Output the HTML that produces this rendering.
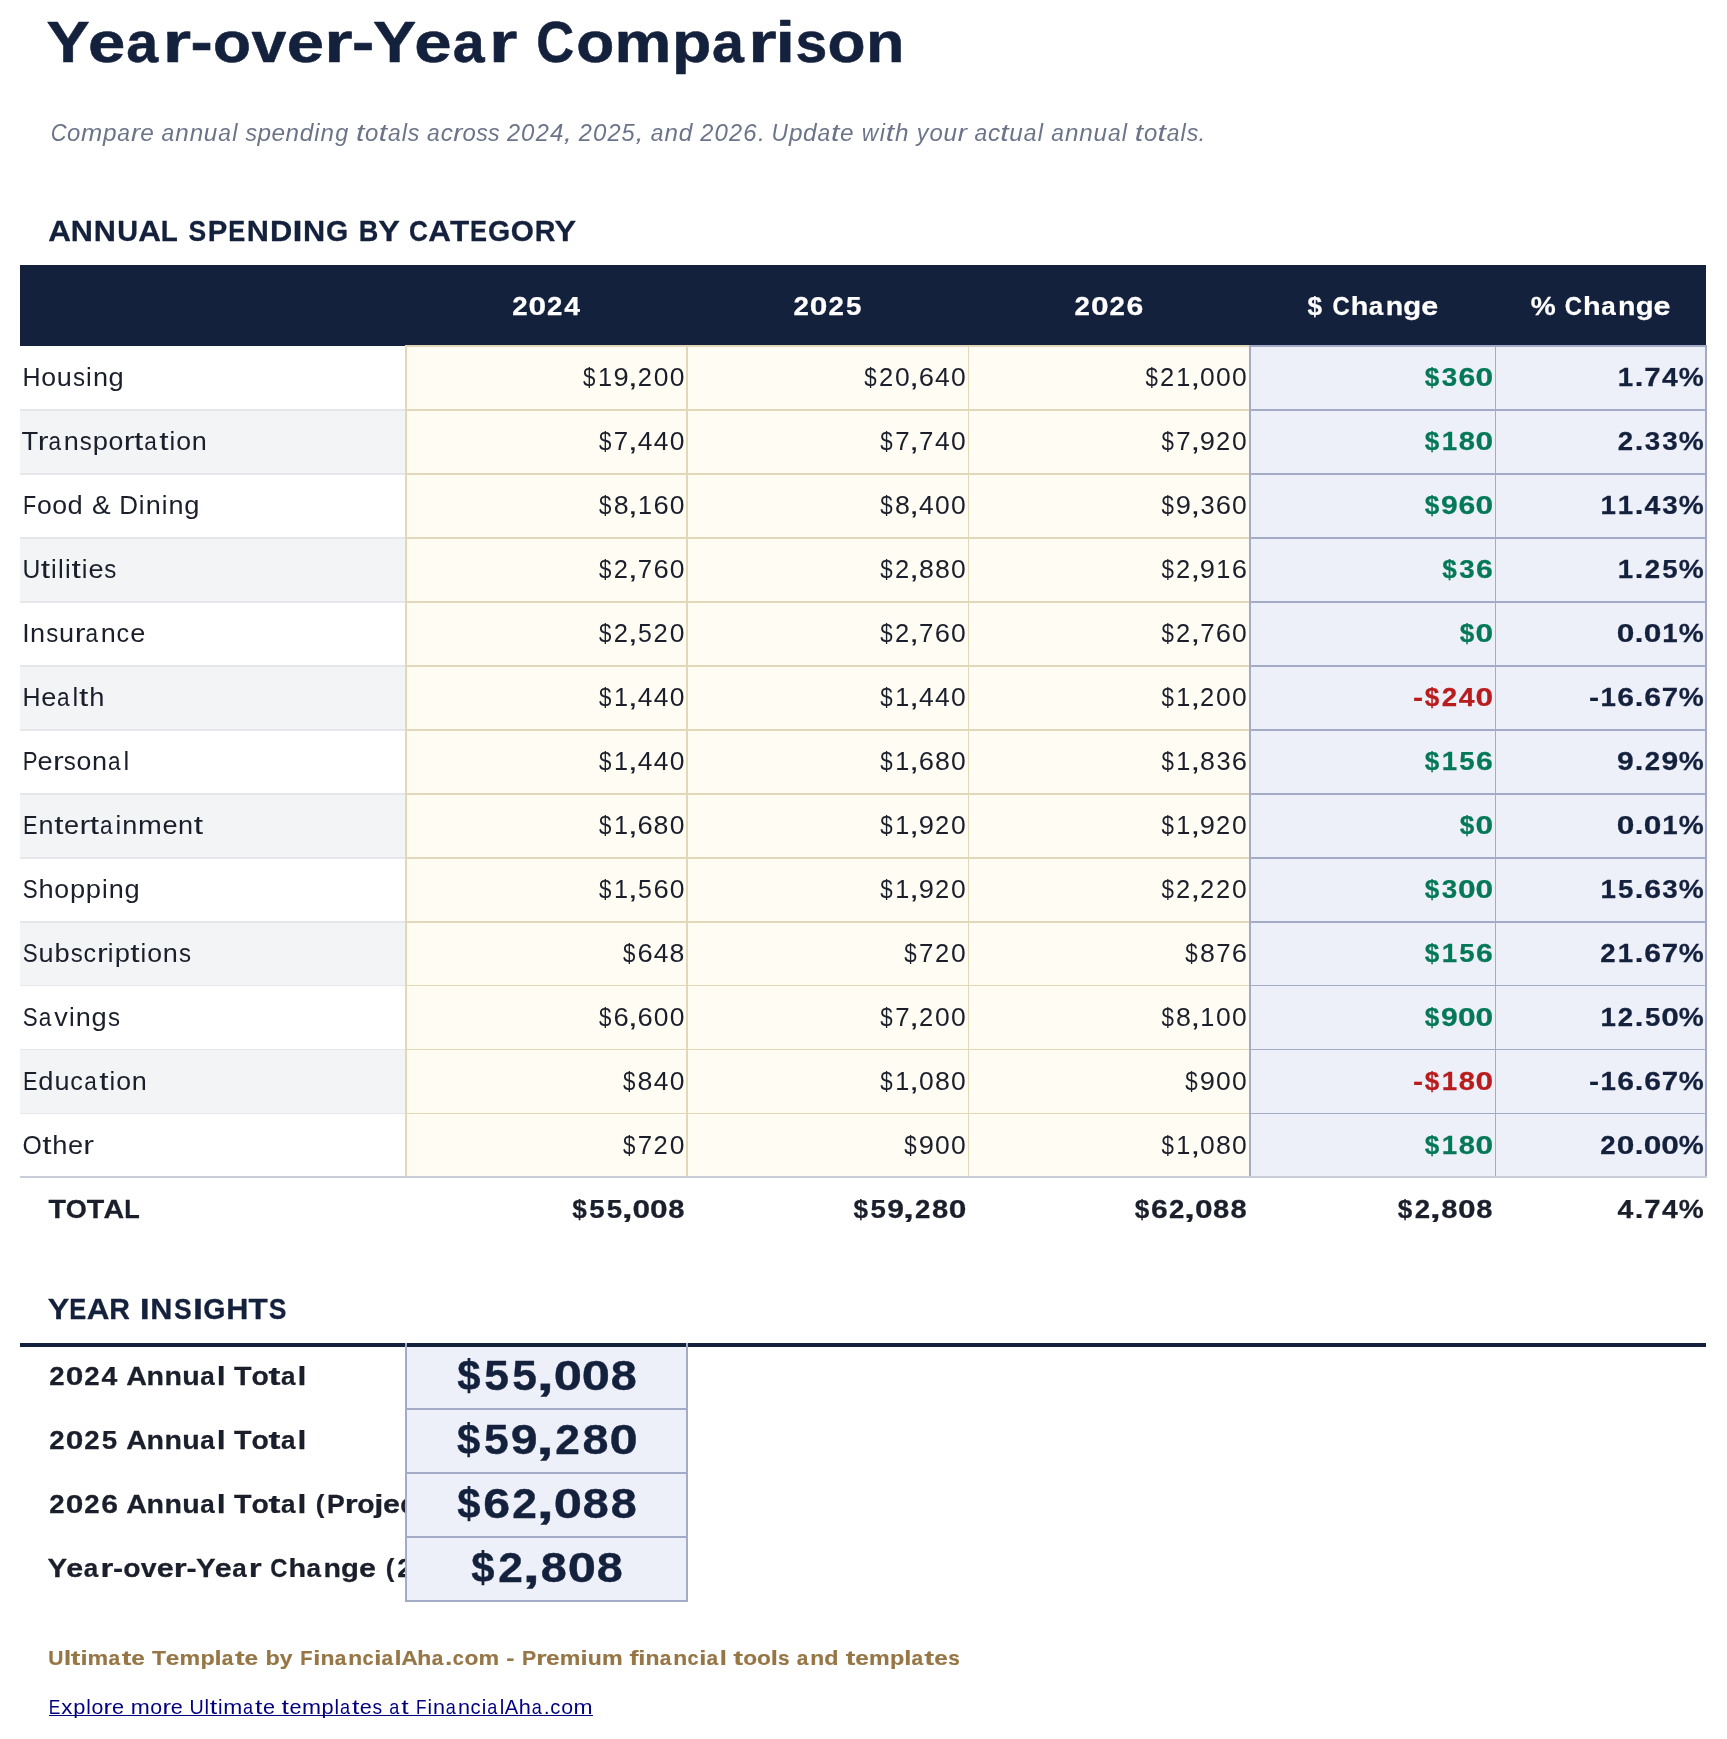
<!DOCTYPE html>
<html><head><meta charset="utf-8"><title>Year-over-Year Comparison</title>
<style>
html,body{margin:0;padding:0;background:#fff;}
body{width:1727px;height:1739px;position:relative;overflow:hidden;font-family:"Liberation Sans",sans-serif;}
.bx div{position:absolute;}
svg{position:absolute;left:0;top:0;will-change:transform;}
svg text{font-family:"Liberation Sans",sans-serif;white-space:pre;font-kerning:none;}
</style></head><body>
<div class="bx">
<div style="left:20px;top:265px;width:1686px;height:81px;background:#14213d"></div>
<div style="left:20px;top:409px;width:385px;height:2px;background:#e5e7eb"></div>
<div style="left:20px;top:411px;width:385px;height:62px;background:#f3f4f6"></div>
<div style="left:20px;top:473px;width:385px;height:2px;background:#e5e7eb"></div>
<div style="left:20px;top:537px;width:385px;height:2px;background:#e5e7eb"></div>
<div style="left:20px;top:539px;width:385px;height:62px;background:#f3f4f6"></div>
<div style="left:20px;top:601px;width:385px;height:2px;background:#e5e7eb"></div>
<div style="left:20px;top:665px;width:385px;height:2px;background:#e5e7eb"></div>
<div style="left:20px;top:667px;width:385px;height:62px;background:#f3f4f6"></div>
<div style="left:20px;top:729px;width:385px;height:2px;background:#e5e7eb"></div>
<div style="left:20px;top:793px;width:385px;height:2px;background:#e5e7eb"></div>
<div style="left:20px;top:795px;width:385px;height:62px;background:#f3f4f6"></div>
<div style="left:20px;top:857px;width:385px;height:2px;background:#e5e7eb"></div>
<div style="left:20px;top:921px;width:385px;height:2px;background:#e5e7eb"></div>
<div style="left:20px;top:923px;width:385px;height:62px;background:#f3f4f6"></div>
<div style="left:20px;top:985px;width:385px;height:1px;background:#e5e7eb"></div>
<div style="left:20px;top:1049px;width:385px;height:1px;background:#e5e7eb"></div>
<div style="left:20px;top:1050px;width:385px;height:63px;background:#f3f4f6"></div>
<div style="left:20px;top:1113px;width:385px;height:1px;background:#e5e7eb"></div>
<div style="left:405px;top:345px;width:845px;height:831px;background:#fffcf3"></div>
<div style="left:1249px;top:345px;width:458px;height:831px;background:#edf0f8"></div>
<div style="left:405px;top:345px;width:845px;height:2px;background:#e2d8b8"></div>
<div style="left:1249px;top:345px;width:458px;height:2px;background:#a3abc6"></div>
<div style="left:405px;top:409px;width:845px;height:2px;background:#e2d8b8"></div>
<div style="left:1249px;top:409px;width:458px;height:2px;background:#a3abc6"></div>
<div style="left:405px;top:473px;width:845px;height:2px;background:#e2d8b8"></div>
<div style="left:1249px;top:473px;width:458px;height:2px;background:#a3abc6"></div>
<div style="left:405px;top:537px;width:845px;height:2px;background:#e2d8b8"></div>
<div style="left:1249px;top:537px;width:458px;height:2px;background:#a3abc6"></div>
<div style="left:405px;top:601px;width:845px;height:2px;background:#e2d8b8"></div>
<div style="left:1249px;top:601px;width:458px;height:2px;background:#a3abc6"></div>
<div style="left:405px;top:665px;width:845px;height:2px;background:#e2d8b8"></div>
<div style="left:1249px;top:665px;width:458px;height:2px;background:#a3abc6"></div>
<div style="left:405px;top:729px;width:845px;height:2px;background:#e2d8b8"></div>
<div style="left:1249px;top:729px;width:458px;height:2px;background:#a3abc6"></div>
<div style="left:405px;top:793px;width:845px;height:2px;background:#e2d8b8"></div>
<div style="left:1249px;top:793px;width:458px;height:2px;background:#a3abc6"></div>
<div style="left:405px;top:857px;width:845px;height:2px;background:#e2d8b8"></div>
<div style="left:1249px;top:857px;width:458px;height:2px;background:#a3abc6"></div>
<div style="left:405px;top:921px;width:845px;height:2px;background:#e2d8b8"></div>
<div style="left:1249px;top:921px;width:458px;height:2px;background:#a3abc6"></div>
<div style="left:405px;top:985px;width:845px;height:1px;background:#e2d8b8"></div>
<div style="left:1249px;top:985px;width:458px;height:1px;background:#a3abc6"></div>
<div style="left:405px;top:1049px;width:845px;height:1px;background:#e2d8b8"></div>
<div style="left:1249px;top:1049px;width:458px;height:1px;background:#a3abc6"></div>
<div style="left:405px;top:1113px;width:845px;height:1px;background:#e2d8b8"></div>
<div style="left:1249px;top:1113px;width:458px;height:1px;background:#a3abc6"></div>
<div style="left:405px;top:345px;width:2px;height:831px;background:#e2d8b8"></div>
<div style="left:686px;top:345px;width:2px;height:831px;background:#e2d8b8"></div>
<div style="left:968px;top:345px;width:1px;height:831px;background:#e2d8b8"></div>
<div style="left:1249px;top:345px;width:2px;height:831px;background:#a3abc6"></div>
<div style="left:1495px;top:345px;width:1px;height:831px;background:#a3abc6"></div>
<div style="left:1705px;top:345px;width:2px;height:831px;background:#a3abc6"></div>
<div style="left:20px;top:1176px;width:1687px;height:2px;background:#c9cdd9"></div>
<div style="left:20px;top:1343px;width:1686px;height:4px;background:#14213d"></div>
<div style="left:405px;top:1347px;width:283px;height:255px;background:#edf0f8"></div>
<div style="left:405px;top:1343px;width:2px;height:259px;background:#a3abc6"></div>
<div style="left:686px;top:1343px;width:2px;height:259px;background:#a3abc6"></div>
<div style="left:405px;top:1408px;width:283px;height:2px;background:#a3abc6"></div>
<div style="left:405px;top:1472px;width:283px;height:2px;background:#a3abc6"></div>
<div style="left:405px;top:1536px;width:283px;height:2px;background:#a3abc6"></div>
<div style="left:405px;top:1600px;width:283px;height:2px;background:#a3abc6"></div>
<div style="left:49px;top:1715px;width:544px;height:1px;background:#000080"></div>
</div>
<svg width="1727" height="1739" viewBox="0 0 1727 1739" role="img" aria-label="Year-over-Year Comparison">
<defs><clipPath id="lab" clipPathUnits="userSpaceOnUse"><rect x="0" y="1340" width="405" height="270"/></clipPath></defs>
<g aria-label="Year-over-Year Comparison" fill="#14213d" stroke="#14213d" stroke-width="0.55" stroke-linejoin="round" font-size="57.981" font-weight="700"><text transform="matrix(1.1175 0 0 1 46.49 61.7)">Y</text><text transform="matrix(1.1575 0 0 1 87.88 61.7)">e</text><text transform="matrix(0.9881 0 0 1 126.27 61.7)">a</text><text transform="matrix(1.2558 0 0 1 162.68 61.7)">r</text><text transform="matrix(1.1502 0 0 1 190.46 61.7)">-</text><text transform="matrix(1.0746 0 0 1 212.93 61.7)">o</text><text transform="matrix(1.0814 0 0 1 251.52 61.7)">v</text><text transform="matrix(1.1575 0 0 1 286.67 61.7)">e</text><text transform="matrix(1.2558 0 0 1 324.21 61.7)">r</text><text transform="matrix(1.1502 0 0 1 351.99 61.7)">-</text><text transform="matrix(1.1175 0 0 1 372.88 61.7)">Y</text><text transform="matrix(1.1575 0 0 1 414.26 61.7)">e</text><text transform="matrix(0.9881 0 0 1 452.66 61.7)">a</text><text transform="matrix(1.2558 0 0 1 489.06 61.7)">r</text><text transform="matrix(0.9033 0 0 1 536.28 61.7)">C</text><text transform="matrix(1.0746 0 0 1 576.15 61.7)">o</text><text transform="matrix(1.1008 0 0 1 614.52 61.7)">m</text><text transform="matrix(1.1093 0 0 1 672.08 61.7)">p</text><text transform="matrix(0.9881 0 0 1 711.90 61.7)">a</text><text transform="matrix(1.2558 0 0 1 748.31 61.7)">r</text><text transform="matrix(1.2134 0 0 1 775.43 61.7)">i</text><text transform="matrix(0.9844 0 0 1 795.49 61.7)">s</text><text transform="matrix(1.0746 0 0 1 827.44 61.7)">o</text><text transform="matrix(1.0843 0 0 1 865.93 61.7)">n</text></g>
<g aria-label="Compare annual spending totals across 2024, 2025, and 2026. Update with your actual annual totals." fill="#6b7489" font-size="23.7195" font-style="italic"><text transform="matrix(0.9247 0 0 1 50.69 140.7)">C</text><text transform="matrix(1.0072 0 0 1 66.98 140.7)">o</text><text transform="matrix(1.0768 0 0 1 80.92 140.7)">m</text><text transform="matrix(1.0269 0 0 1 103.09 140.7)">p</text><text transform="matrix(0.9645 0 0 1 117.30 140.7)">a</text><text transform="matrix(1.1636 0 0 1 131.07 140.7)">r</text><text transform="matrix(1.0300 0 0 1 140.23 140.7)">e</text><text transform="matrix(0.9645 0 0 1 161.51 140.7)">a</text><text transform="matrix(1.0230 0 0 1 175.33 140.7)">n</text><text transform="matrix(1.0230 0 0 1 189.65 140.7)">n</text><text transform="matrix(1.0248 0 0 1 203.85 140.7)">u</text><text transform="matrix(0.9645 0 0 1 218.31 140.7)">a</text><text transform="matrix(0.9910 0 0 1 232.15 140.7)">l</text><text transform="matrix(0.9758 0 0 1 245.39 140.7)">s</text><text transform="matrix(1.0269 0 0 1 257.50 140.7)">p</text><text transform="matrix(1.0300 0 0 1 271.52 140.7)">e</text><text transform="matrix(1.0230 0 0 1 285.59 140.7)">n</text><text transform="matrix(1.0295 0 0 1 299.73 140.7)">d</text><text transform="matrix(0.9910 0 0 1 314.27 140.7)">i</text><text transform="matrix(1.0230 0 0 1 320.53 140.7)">n</text><text transform="matrix(0.9848 0 0 1 335.13 140.7)">g</text><text transform="matrix(1.2797 0 0 1 356.04 140.7)">t</text><text transform="matrix(1.0072 0 0 1 365.08 140.7)">o</text><text transform="matrix(1.2797 0 0 1 378.72 140.7)">t</text><text transform="matrix(0.9645 0 0 1 387.92 140.7)">a</text><text transform="matrix(0.9910 0 0 1 401.77 140.7)">l</text><text transform="matrix(0.9758 0 0 1 407.82 140.7)">s</text><text transform="matrix(0.9645 0 0 1 426.99 140.7)">a</text><text transform="matrix(1.0238 0 0 1 440.66 140.7)">c</text><text transform="matrix(1.1636 0 0 1 453.18 140.7)">r</text><text transform="matrix(1.0072 0 0 1 462.38 140.7)">o</text><text transform="matrix(0.9758 0 0 1 476.15 140.7)">s</text><text transform="matrix(0.9758 0 0 1 487.91 140.7)">s</text><text transform="matrix(0.9923 0 0 1 506.89 140.7)">2</text><text transform="matrix(1.0123 0 0 1 521.12 140.7)">0</text><text transform="matrix(0.9923 0 0 1 535.64 140.7)">2</text><text transform="matrix(1.0168 0 0 1 550.04 140.7)">4</text><text transform="matrix(1.2601 0 0 1 563.68 140.7)">,</text><text transform="matrix(0.9923 0 0 1 578.74 140.7)">2</text><text transform="matrix(1.0123 0 0 1 592.97 140.7)">0</text><text transform="matrix(0.9923 0 0 1 607.49 140.7)">2</text><text transform="matrix(0.9966 0 0 1 621.56 140.7)">5</text><text transform="matrix(1.2601 0 0 1 635.53 140.7)">,</text><text transform="matrix(0.9645 0 0 1 650.78 140.7)">a</text><text transform="matrix(1.0230 0 0 1 664.60 140.7)">n</text><text transform="matrix(1.0295 0 0 1 678.74 140.7)">d</text><text transform="matrix(0.9923 0 0 1 700.28 140.7)">2</text><text transform="matrix(1.0123 0 0 1 714.50 140.7)">0</text><text transform="matrix(0.9923 0 0 1 729.02 140.7)">2</text><text transform="matrix(1.0073 0 0 1 743.25 140.7)">6</text><text transform="matrix(1.0404 0 0 1 757.89 140.7)">.</text><text transform="matrix(0.9559 0 0 1 771.52 140.7)">U</text><text transform="matrix(1.0269 0 0 1 788.98 140.7)">p</text><text transform="matrix(1.0295 0 0 1 802.99 140.7)">d</text><text transform="matrix(0.9645 0 0 1 817.53 140.7)">a</text><text transform="matrix(1.2797 0 0 1 831.02 140.7)">t</text><text transform="matrix(1.0300 0 0 1 840.03 140.7)">e</text><text transform="matrix(0.9626 0 0 1 861.68 140.7)">w</text><text transform="matrix(0.9910 0 0 1 879.78 140.7)">i</text><text transform="matrix(1.2797 0 0 1 885.71 140.7)">t</text><text transform="matrix(1.0240 0 0 1 894.89 140.7)">h</text><text transform="matrix(0.9853 0 0 1 916.76 140.7)">y</text><text transform="matrix(1.0072 0 0 1 929.62 140.7)">o</text><text transform="matrix(1.0248 0 0 1 943.46 140.7)">u</text><text transform="matrix(1.1636 0 0 1 957.84 140.7)">r</text><text transform="matrix(0.9645 0 0 1 974.39 140.7)">a</text><text transform="matrix(1.0238 0 0 1 988.06 140.7)">c</text><text transform="matrix(1.2797 0 0 1 1000.31 140.7)">t</text><text transform="matrix(1.0248 0 0 1 1009.37 140.7)">u</text><text transform="matrix(0.9645 0 0 1 1023.83 140.7)">a</text><text transform="matrix(0.9910 0 0 1 1037.67 140.7)">l</text><text transform="matrix(0.9645 0 0 1 1051.13 140.7)">a</text><text transform="matrix(1.0230 0 0 1 1064.95 140.7)">n</text><text transform="matrix(1.0230 0 0 1 1079.26 140.7)">n</text><text transform="matrix(1.0248 0 0 1 1093.46 140.7)">u</text><text transform="matrix(0.9645 0 0 1 1107.92 140.7)">a</text><text transform="matrix(0.9910 0 0 1 1121.77 140.7)">l</text><text transform="matrix(1.2797 0 0 1 1134.87 140.7)">t</text><text transform="matrix(1.0072 0 0 1 1143.92 140.7)">o</text><text transform="matrix(1.2797 0 0 1 1157.55 140.7)">t</text><text transform="matrix(0.9645 0 0 1 1166.76 140.7)">a</text><text transform="matrix(0.9910 0 0 1 1180.60 140.7)">l</text><text transform="matrix(0.9758 0 0 1 1186.66 140.7)">s</text><text transform="matrix(1.0404 0 0 1 1198.58 140.7)">.</text></g>
<g aria-label="ANNUAL SPENDING BY CATEGORY" fill="#14213d" stroke="#14213d" stroke-width="0.28" stroke-linejoin="round" font-size="28.980000000000004" font-weight="700"><text transform="matrix(1.0848 0 0 1 48.22 241.0)">A</text><text transform="matrix(1.0584 0 0 1 70.71 241.0)">N</text><text transform="matrix(1.0584 0 0 1 93.81 241.0)">N</text><text transform="matrix(0.9957 0 0 1 117.22 241.0)">U</text><text transform="matrix(1.0848 0 0 1 138.19 241.0)">A</text><text transform="matrix(0.9614 0 0 1 160.86 241.0)">L</text><text transform="matrix(0.9143 0 0 1 188.61 241.0)">S</text><text transform="matrix(1.0099 0 0 1 207.84 241.0)">P</text><text transform="matrix(0.8794 0 0 1 228.33 241.0)">E</text><text transform="matrix(1.0584 0 0 1 246.83 241.0)">N</text><text transform="matrix(1.0654 0 0 1 269.92 241.0)">D</text><text transform="matrix(1.2429 0 0 1 292.48 241.0)">I</text><text transform="matrix(1.0584 0 0 1 303.11 241.0)">N</text><text transform="matrix(0.9841 0 0 1 325.93 241.0)">G</text><text transform="matrix(0.9371 0 0 1 358.71 241.0)">B</text><text transform="matrix(1.1175 0 0 1 378.20 241.0)">Y</text><text transform="matrix(0.9033 0 0 1 408.92 241.0)">C</text><text transform="matrix(1.0848 0 0 1 428.23 241.0)">A</text><text transform="matrix(1.0866 0 0 1 450.02 241.0)">T</text><text transform="matrix(0.8794 0 0 1 469.89 241.0)">E</text><text transform="matrix(0.9841 0 0 1 488.12 241.0)">G</text><text transform="matrix(1.0280 0 0 1 510.72 241.0)">O</text><text transform="matrix(0.9875 0 0 1 534.65 241.0)">R</text><text transform="matrix(1.1175 0 0 1 554.46 241.0)">Y</text></g>
<g aria-label="2024" fill="#ffffff" stroke="#ffffff" stroke-width="0.25" stroke-linejoin="round" font-size="26.3655" font-weight="700"><text transform="matrix(1.0480 0 0 1 512.17 315.0)">2</text><text transform="matrix(1.2017 0 0 1 528.56 315.0)">0</text><text transform="matrix(1.0480 0 0 1 547.11 315.0)">2</text><text transform="matrix(1.0757 0 0 1 564.25 315.0)">4</text></g>
<g aria-label="2025" fill="#ffffff" stroke="#ffffff" stroke-width="0.25" stroke-linejoin="round" font-size="26.3655" font-weight="700"><text transform="matrix(1.0480 0 0 1 793.47 315.0)">2</text><text transform="matrix(1.2017 0 0 1 809.86 315.0)">0</text><text transform="matrix(1.0480 0 0 1 828.41 315.0)">2</text><text transform="matrix(1.0505 0 0 1 845.94 315.0)">5</text></g>
<g aria-label="2026" fill="#ffffff" stroke="#ffffff" stroke-width="0.25" stroke-linejoin="round" font-size="26.3655" font-weight="700"><text transform="matrix(1.0480 0 0 1 1074.57 315.0)">2</text><text transform="matrix(1.2017 0 0 1 1090.96 315.0)">0</text><text transform="matrix(1.0480 0 0 1 1109.51 315.0)">2</text><text transform="matrix(1.1429 0 0 1 1126.41 315.0)">6</text></g>
<g aria-label="$ Change" fill="#ffffff" stroke="#ffffff" stroke-width="0.25" stroke-linejoin="round" font-size="26.3655" font-weight="700"><text transform="matrix(0.9902 0 0 1 1307.57 315.0)">$</text><text transform="matrix(0.9033 0 0 1 1332.44 315.0)">C</text><text transform="matrix(1.0932 0 0 1 1350.69 315.0)">h</text><text transform="matrix(0.9881 0 0 1 1368.79 315.0)">a</text><text transform="matrix(1.0843 0 0 1 1385.64 315.0)">n</text><text transform="matrix(1.1114 0 0 1 1403.22 315.0)">g</text><text transform="matrix(1.1575 0 0 1 1421.16 315.0)">e</text></g>
<g aria-label="% Change" fill="#ffffff" stroke="#ffffff" stroke-width="0.25" stroke-linejoin="round" font-size="26.3655" font-weight="700"><text transform="matrix(1.0662 0 0 1 1530.80 315.0)">%</text><text transform="matrix(0.9033 0 0 1 1564.86 315.0)">C</text><text transform="matrix(1.0932 0 0 1 1583.11 315.0)">h</text><text transform="matrix(0.9881 0 0 1 1601.21 315.0)">a</text><text transform="matrix(1.0843 0 0 1 1618.06 315.0)">n</text><text transform="matrix(1.1114 0 0 1 1635.64 315.0)">g</text><text transform="matrix(1.1575 0 0 1 1653.58 315.0)">e</text></g>
<g aria-label="Housing" fill="#1b1f2b" font-size="26.3655"><text transform="matrix(0.9474 0 0 1 22.62 386)">H</text><text transform="matrix(1.0125 0 0 1 41.35 386)">o</text><text transform="matrix(1.0268 0 0 1 56.82 386)">u</text><text transform="matrix(0.9129 0 0 1 73.05 386)">s</text><text transform="matrix(0.9735 0 0 1 86.09 386)">i</text><text transform="matrix(1.0268 0 0 1 92.90 386)">n</text><text transform="matrix(1.0351 0 0 1 108.57 386)">g</text></g>
<g aria-label="$19,200" fill="#1b1f2b" font-size="26.3655"><text transform="matrix(0.8461 0 0 1 583.01 386)">$</text><text transform="matrix(0.9589 0 0 1 597.98 386)">1</text><text transform="matrix(1.0369 0 0 1 613.42 386)">9</text><text transform="matrix(1.3883 0 0 1 627.74 386)">,</text><text transform="matrix(0.9677 0 0 1 637.63 386)">2</text><text transform="matrix(1.0039 0 0 1 653.67 386)">0</text><text transform="matrix(1.0039 0 0 1 669.65 386)">0</text></g>
<g aria-label="$20,640" fill="#1b1f2b" font-size="26.3655"><text transform="matrix(0.8461 0 0 1 864.31 386)">$</text><text transform="matrix(0.9677 0 0 1 879.00 386)">2</text><text transform="matrix(1.0039 0 0 1 895.04 386)">0</text><text transform="matrix(1.3883 0 0 1 909.04 386)">,</text><text transform="matrix(1.0391 0 0 1 918.74 386)">6</text><text transform="matrix(1.0041 0 0 1 934.97 386)">4</text><text transform="matrix(1.0039 0 0 1 950.95 386)">0</text></g>
<g aria-label="$21,000" fill="#1b1f2b" font-size="26.3655"><text transform="matrix(0.8461 0 0 1 1145.41 386)">$</text><text transform="matrix(0.9677 0 0 1 1160.10 386)">2</text><text transform="matrix(0.9589 0 0 1 1176.35 386)">1</text><text transform="matrix(1.3883 0 0 1 1190.14 386)">,</text><text transform="matrix(1.0039 0 0 1 1200.10 386)">0</text><text transform="matrix(1.0039 0 0 1 1216.07 386)">0</text><text transform="matrix(1.0039 0 0 1 1232.05 386)">0</text></g>
<g aria-label="$360" fill="#047857" stroke="#047857" stroke-width="0.25" stroke-linejoin="round" font-size="26.3655" font-weight="700"><text transform="matrix(0.9902 0 0 1 1424.83 386)">$</text><text transform="matrix(1.0525 0 0 1 1441.73 386)">3</text><text transform="matrix(1.1429 0 0 1 1458.61 386)">6</text><text transform="matrix(1.2017 0 0 1 1475.58 386)">0</text></g>
<g aria-label="1.74%" fill="#14213d" stroke="#14213d" stroke-width="0.25" stroke-linejoin="round" font-size="26.3655" font-weight="700"><text transform="matrix(1.0523 0 0 1 1617.87 386)">1</text><text transform="matrix(1.1864 0 0 1 1634.70 386)">.</text><text transform="matrix(1.1149 0 0 1 1644.22 386)">7</text><text transform="matrix(1.0757 0 0 1 1661.97 386)">4</text><text transform="matrix(1.0662 0 0 1 1678.85 386)">%</text></g>
<g aria-label="Transportation" fill="#1b1f2b" font-size="26.3655"><text transform="matrix(1.0387 0 0 1 21.51 450)">T</text><text transform="matrix(1.2202 0 0 1 37.68 450)">r</text><text transform="matrix(0.8564 0 0 1 48.41 450)">a</text><text transform="matrix(1.0268 0 0 1 63.73 450)">n</text><text transform="matrix(0.9129 0 0 1 79.85 450)">s</text><text transform="matrix(1.0361 0 0 1 92.77 450)">p</text><text transform="matrix(1.0125 0 0 1 108.45 450)">o</text><text transform="matrix(1.2202 0 0 1 123.69 450)">r</text><text transform="matrix(1.2729 0 0 1 134.04 450)">t</text><text transform="matrix(0.8564 0 0 1 144.27 450)">a</text><text transform="matrix(1.2729 0 0 1 159.27 450)">t</text><text transform="matrix(0.9735 0 0 1 169.60 450)">i</text><text transform="matrix(1.0125 0 0 1 176.19 450)">o</text><text transform="matrix(1.0268 0 0 1 191.77 450)">n</text></g>
<g aria-label="$7,440" fill="#1b1f2b" font-size="26.3655"><text transform="matrix(0.8461 0 0 1 598.99 450)">$</text><text transform="matrix(0.9820 0 0 1 613.85 450)">7</text><text transform="matrix(1.3883 0 0 1 627.74 450)">,</text><text transform="matrix(1.0041 0 0 1 637.69 450)">4</text><text transform="matrix(1.0041 0 0 1 653.67 450)">4</text><text transform="matrix(1.0039 0 0 1 669.65 450)">0</text></g>
<g aria-label="$7,740" fill="#1b1f2b" font-size="26.3655"><text transform="matrix(0.8461 0 0 1 880.29 450)">$</text><text transform="matrix(0.9820 0 0 1 895.15 450)">7</text><text transform="matrix(1.3883 0 0 1 909.04 450)">,</text><text transform="matrix(0.9820 0 0 1 919.11 450)">7</text><text transform="matrix(1.0041 0 0 1 934.97 450)">4</text><text transform="matrix(1.0039 0 0 1 950.95 450)">0</text></g>
<g aria-label="$7,920" fill="#1b1f2b" font-size="26.3655"><text transform="matrix(0.8461 0 0 1 1161.39 450)">$</text><text transform="matrix(0.9820 0 0 1 1176.25 450)">7</text><text transform="matrix(1.3883 0 0 1 1190.14 450)">,</text><text transform="matrix(1.0369 0 0 1 1199.77 450)">9</text><text transform="matrix(0.9677 0 0 1 1216.01 450)">2</text><text transform="matrix(1.0039 0 0 1 1232.05 450)">0</text></g>
<g aria-label="$180" fill="#047857" stroke="#047857" stroke-width="0.25" stroke-linejoin="round" font-size="26.3655" font-weight="700"><text transform="matrix(0.9902 0 0 1 1424.83 450)">$</text><text transform="matrix(1.0523 0 0 1 1441.77 450)">1</text><text transform="matrix(1.1050 0 0 1 1458.77 450)">8</text><text transform="matrix(1.2017 0 0 1 1475.58 450)">0</text></g>
<g aria-label="2.33%" fill="#14213d" stroke="#14213d" stroke-width="0.25" stroke-linejoin="round" font-size="26.3655" font-weight="700"><text transform="matrix(1.0480 0 0 1 1617.82 450)">2</text><text transform="matrix(1.1864 0 0 1 1634.70 450)">.</text><text transform="matrix(1.0525 0 0 1 1644.84 450)">3</text><text transform="matrix(1.0525 0 0 1 1662.31 450)">3</text><text transform="matrix(1.0662 0 0 1 1678.85 450)">%</text></g>
<g aria-label="Food &amp; Dining" fill="#1b1f2b" font-size="26.3655"><text transform="matrix(0.8163 0 0 1 22.90 514)">F</text><text transform="matrix(1.0125 0 0 1 36.91 514)">o</text><text transform="matrix(1.0125 0 0 1 52.27 514)">o</text><text transform="matrix(1.0351 0 0 1 67.61 514)">d</text><text transform="matrix(1.0603 0 0 1 91.89 514)">&amp;</text><text transform="matrix(0.9854 0 0 1 119.18 514)">D</text><text transform="matrix(0.9735 0 0 1 138.84 514)">i</text><text transform="matrix(1.0268 0 0 1 145.65 514)">n</text><text transform="matrix(0.9735 0 0 1 161.73 514)">i</text><text transform="matrix(1.0268 0 0 1 168.54 514)">n</text><text transform="matrix(1.0351 0 0 1 184.21 514)">g</text></g>
<g aria-label="$8,160" fill="#1b1f2b" font-size="26.3655"><text transform="matrix(0.8461 0 0 1 598.99 514)">$</text><text transform="matrix(1.0148 0 0 1 613.66 514)">8</text><text transform="matrix(1.3883 0 0 1 627.74 514)">,</text><text transform="matrix(0.9589 0 0 1 637.91 514)">1</text><text transform="matrix(1.0391 0 0 1 653.41 514)">6</text><text transform="matrix(1.0039 0 0 1 669.65 514)">0</text></g>
<g aria-label="$8,400" fill="#1b1f2b" font-size="26.3655"><text transform="matrix(0.8461 0 0 1 880.29 514)">$</text><text transform="matrix(1.0148 0 0 1 894.96 514)">8</text><text transform="matrix(1.3883 0 0 1 909.04 514)">,</text><text transform="matrix(1.0041 0 0 1 918.99 514)">4</text><text transform="matrix(1.0039 0 0 1 934.97 514)">0</text><text transform="matrix(1.0039 0 0 1 950.95 514)">0</text></g>
<g aria-label="$9,360" fill="#1b1f2b" font-size="26.3655"><text transform="matrix(0.8461 0 0 1 1161.39 514)">$</text><text transform="matrix(1.0369 0 0 1 1175.82 514)">9</text><text transform="matrix(1.3883 0 0 1 1190.14 514)">,</text><text transform="matrix(0.9642 0 0 1 1200.42 514)">3</text><text transform="matrix(1.0391 0 0 1 1215.81 514)">6</text><text transform="matrix(1.0039 0 0 1 1232.05 514)">0</text></g>
<g aria-label="$960" fill="#047857" stroke="#047857" stroke-width="0.25" stroke-linejoin="round" font-size="26.3655" font-weight="700"><text transform="matrix(0.9902 0 0 1 1424.83 514)">$</text><text transform="matrix(1.1406 0 0 1 1440.94 514)">9</text><text transform="matrix(1.1429 0 0 1 1458.61 514)">6</text><text transform="matrix(1.2017 0 0 1 1475.58 514)">0</text></g>
<g aria-label="11.43%" fill="#14213d" stroke="#14213d" stroke-width="0.25" stroke-linejoin="round" font-size="26.3655" font-weight="700"><text transform="matrix(1.0523 0 0 1 1600.40 514)">1</text><text transform="matrix(1.0523 0 0 1 1617.87 514)">1</text><text transform="matrix(1.1864 0 0 1 1634.70 514)">.</text><text transform="matrix(1.0757 0 0 1 1644.50 514)">4</text><text transform="matrix(1.0525 0 0 1 1662.31 514)">3</text><text transform="matrix(1.0662 0 0 1 1678.85 514)">%</text></g>
<g aria-label="Utilities" fill="#1b1f2b" font-size="26.3655"><text transform="matrix(0.9360 0 0 1 22.48 578)">U</text><text transform="matrix(1.2729 0 0 1 40.75 578)">t</text><text transform="matrix(0.9735 0 0 1 51.07 578)">i</text><text transform="matrix(0.9735 0 0 1 58.04 578)">l</text><text transform="matrix(0.9735 0 0 1 65.03 578)">i</text><text transform="matrix(1.2729 0 0 1 71.52 578)">t</text><text transform="matrix(0.9735 0 0 1 81.85 578)">i</text><text transform="matrix(1.0287 0 0 1 88.41 578)">e</text><text transform="matrix(0.9129 0 0 1 104.31 578)">s</text></g>
<g aria-label="$2,760" fill="#1b1f2b" font-size="26.3655"><text transform="matrix(0.8461 0 0 1 598.99 578)">$</text><text transform="matrix(0.9677 0 0 1 613.67 578)">2</text><text transform="matrix(1.3883 0 0 1 627.74 578)">,</text><text transform="matrix(0.9820 0 0 1 637.81 578)">7</text><text transform="matrix(1.0391 0 0 1 653.41 578)">6</text><text transform="matrix(1.0039 0 0 1 669.65 578)">0</text></g>
<g aria-label="$2,880" fill="#1b1f2b" font-size="26.3655"><text transform="matrix(0.8461 0 0 1 880.29 578)">$</text><text transform="matrix(0.9677 0 0 1 894.97 578)">2</text><text transform="matrix(1.3883 0 0 1 909.04 578)">,</text><text transform="matrix(1.0148 0 0 1 918.92 578)">8</text><text transform="matrix(1.0148 0 0 1 934.89 578)">8</text><text transform="matrix(1.0039 0 0 1 950.95 578)">0</text></g>
<g aria-label="$2,916" fill="#1b1f2b" font-size="26.3655"><text transform="matrix(0.8461 0 0 1 1161.39 578)">$</text><text transform="matrix(0.9677 0 0 1 1176.07 578)">2</text><text transform="matrix(1.3883 0 0 1 1190.14 578)">,</text><text transform="matrix(1.0369 0 0 1 1199.77 578)">9</text><text transform="matrix(0.9589 0 0 1 1216.28 578)">1</text><text transform="matrix(1.0391 0 0 1 1231.79 578)">6</text></g>
<g aria-label="$36" fill="#047857" stroke="#047857" stroke-width="0.25" stroke-linejoin="round" font-size="26.3655" font-weight="700"><text transform="matrix(0.9902 0 0 1 1442.30 578)">$</text><text transform="matrix(1.0525 0 0 1 1459.20 578)">3</text><text transform="matrix(1.1429 0 0 1 1476.08 578)">6</text></g>
<g aria-label="1.25%" fill="#14213d" stroke="#14213d" stroke-width="0.25" stroke-linejoin="round" font-size="26.3655" font-weight="700"><text transform="matrix(1.0523 0 0 1 1617.87 578)">1</text><text transform="matrix(1.1864 0 0 1 1634.70 578)">.</text><text transform="matrix(1.0480 0 0 1 1644.83 578)">2</text><text transform="matrix(1.0505 0 0 1 1662.36 578)">5</text><text transform="matrix(1.0662 0 0 1 1678.85 578)">%</text></g>
<g aria-label="Insurance" fill="#1b1f2b" font-size="26.3655"><text transform="matrix(1.0072 0 0 1 22.21 642)">I</text><text transform="matrix(1.0268 0 0 1 30.09 642)">n</text><text transform="matrix(0.9129 0 0 1 46.21 642)">s</text><text transform="matrix(1.0268 0 0 1 58.98 642)">u</text><text transform="matrix(1.2202 0 0 1 74.66 642)">r</text><text transform="matrix(0.8564 0 0 1 85.39 642)">a</text><text transform="matrix(1.0268 0 0 1 100.71 642)">n</text><text transform="matrix(0.9556 0 0 1 116.46 642)">c</text><text transform="matrix(1.0287 0 0 1 130.18 642)">e</text></g>
<g aria-label="$2,520" fill="#1b1f2b" font-size="26.3655"><text transform="matrix(0.8461 0 0 1 598.99 642)">$</text><text transform="matrix(0.9677 0 0 1 613.67 642)">2</text><text transform="matrix(1.3883 0 0 1 627.74 642)">,</text><text transform="matrix(0.9475 0 0 1 638.01 642)">5</text><text transform="matrix(0.9677 0 0 1 653.61 642)">2</text><text transform="matrix(1.0039 0 0 1 669.65 642)">0</text></g>
<g aria-label="$2,760" fill="#1b1f2b" font-size="26.3655"><text transform="matrix(0.8461 0 0 1 880.29 642)">$</text><text transform="matrix(0.9677 0 0 1 894.97 642)">2</text><text transform="matrix(1.3883 0 0 1 909.04 642)">,</text><text transform="matrix(0.9820 0 0 1 919.11 642)">7</text><text transform="matrix(1.0391 0 0 1 934.71 642)">6</text><text transform="matrix(1.0039 0 0 1 950.95 642)">0</text></g>
<g aria-label="$2,760" fill="#1b1f2b" font-size="26.3655"><text transform="matrix(0.8461 0 0 1 1161.39 642)">$</text><text transform="matrix(0.9677 0 0 1 1176.07 642)">2</text><text transform="matrix(1.3883 0 0 1 1190.14 642)">,</text><text transform="matrix(0.9820 0 0 1 1200.21 642)">7</text><text transform="matrix(1.0391 0 0 1 1215.81 642)">6</text><text transform="matrix(1.0039 0 0 1 1232.05 642)">0</text></g>
<g aria-label="$0" fill="#047857" stroke="#047857" stroke-width="0.25" stroke-linejoin="round" font-size="26.3655" font-weight="700"><text transform="matrix(0.9902 0 0 1 1459.78 642)">$</text><text transform="matrix(1.2017 0 0 1 1475.58 642)">0</text></g>
<g aria-label="0.01%" fill="#14213d" stroke="#14213d" stroke-width="0.25" stroke-linejoin="round" font-size="26.3655" font-weight="700"><text transform="matrix(1.2017 0 0 1 1616.74 642)">0</text><text transform="matrix(1.1864 0 0 1 1634.70 642)">.</text><text transform="matrix(1.2017 0 0 1 1643.75 642)">0</text><text transform="matrix(1.0523 0 0 1 1662.36 642)">1</text><text transform="matrix(1.0662 0 0 1 1678.85 642)">%</text></g>
<g aria-label="Health" fill="#1b1f2b" font-size="26.3655"><text transform="matrix(0.9474 0 0 1 22.62 706)">H</text><text transform="matrix(1.0287 0 0 1 41.31 706)">e</text><text transform="matrix(0.8564 0 0 1 57.08 706)">a</text><text transform="matrix(0.9735 0 0 1 72.55 706)">l</text><text transform="matrix(1.2729 0 0 1 79.06 706)">t</text><text transform="matrix(1.0340 0 0 1 89.13 706)">h</text></g>
<g aria-label="$1,440" fill="#1b1f2b" font-size="26.3655"><text transform="matrix(0.8461 0 0 1 598.99 706)">$</text><text transform="matrix(0.9589 0 0 1 613.95 706)">1</text><text transform="matrix(1.3883 0 0 1 627.74 706)">,</text><text transform="matrix(1.0041 0 0 1 637.69 706)">4</text><text transform="matrix(1.0041 0 0 1 653.67 706)">4</text><text transform="matrix(1.0039 0 0 1 669.65 706)">0</text></g>
<g aria-label="$1,440" fill="#1b1f2b" font-size="26.3655"><text transform="matrix(0.8461 0 0 1 880.29 706)">$</text><text transform="matrix(0.9589 0 0 1 895.25 706)">1</text><text transform="matrix(1.3883 0 0 1 909.04 706)">,</text><text transform="matrix(1.0041 0 0 1 918.99 706)">4</text><text transform="matrix(1.0041 0 0 1 934.97 706)">4</text><text transform="matrix(1.0039 0 0 1 950.95 706)">0</text></g>
<g aria-label="$1,200" fill="#1b1f2b" font-size="26.3655"><text transform="matrix(0.8461 0 0 1 1161.39 706)">$</text><text transform="matrix(0.9589 0 0 1 1176.35 706)">1</text><text transform="matrix(1.3883 0 0 1 1190.14 706)">,</text><text transform="matrix(0.9677 0 0 1 1200.03 706)">2</text><text transform="matrix(1.0039 0 0 1 1216.07 706)">0</text><text transform="matrix(1.0039 0 0 1 1232.05 706)">0</text></g>
<g aria-label="-$240" fill="#b91c1c" stroke="#b91c1c" stroke-width="0.25" stroke-linejoin="round" font-size="26.3655" font-weight="700"><text transform="matrix(1.1502 0 0 1 1412.97 706)">-</text><text transform="matrix(0.9902 0 0 1 1424.83 706)">$</text><text transform="matrix(1.0480 0 0 1 1441.72 706)">2</text><text transform="matrix(1.0757 0 0 1 1458.86 706)">4</text><text transform="matrix(1.2017 0 0 1 1475.58 706)">0</text></g>
<g aria-label="-16.67%" fill="#14213d" stroke="#14213d" stroke-width="0.25" stroke-linejoin="round" font-size="26.3655" font-weight="700"><text transform="matrix(1.1502 0 0 1 1589.07 706)">-</text><text transform="matrix(1.0523 0 0 1 1600.40 706)">1</text><text transform="matrix(1.1429 0 0 1 1617.24 706)">6</text><text transform="matrix(1.1864 0 0 1 1634.70 706)">.</text><text transform="matrix(1.1429 0 0 1 1644.25 706)">6</text><text transform="matrix(1.1149 0 0 1 1661.69 706)">7</text><text transform="matrix(1.0662 0 0 1 1678.85 706)">%</text></g>
<g aria-label="Personal" fill="#1b1f2b" font-size="26.3655"><text transform="matrix(0.8423 0 0 1 22.84 770)">P</text><text transform="matrix(1.0287 0 0 1 37.58 770)">e</text><text transform="matrix(1.2202 0 0 1 52.93 770)">r</text><text transform="matrix(0.9129 0 0 1 63.81 770)">s</text><text transform="matrix(1.0125 0 0 1 76.46 770)">o</text><text transform="matrix(1.0268 0 0 1 92.04 770)">n</text><text transform="matrix(0.8564 0 0 1 108.02 770)">a</text><text transform="matrix(0.9735 0 0 1 123.50 770)">l</text></g>
<g aria-label="$1,440" fill="#1b1f2b" font-size="26.3655"><text transform="matrix(0.8461 0 0 1 598.99 770)">$</text><text transform="matrix(0.9589 0 0 1 613.95 770)">1</text><text transform="matrix(1.3883 0 0 1 627.74 770)">,</text><text transform="matrix(1.0041 0 0 1 637.69 770)">4</text><text transform="matrix(1.0041 0 0 1 653.67 770)">4</text><text transform="matrix(1.0039 0 0 1 669.65 770)">0</text></g>
<g aria-label="$1,680" fill="#1b1f2b" font-size="26.3655"><text transform="matrix(0.8461 0 0 1 880.29 770)">$</text><text transform="matrix(0.9589 0 0 1 895.25 770)">1</text><text transform="matrix(1.3883 0 0 1 909.04 770)">,</text><text transform="matrix(1.0391 0 0 1 918.74 770)">6</text><text transform="matrix(1.0148 0 0 1 934.89 770)">8</text><text transform="matrix(1.0039 0 0 1 950.95 770)">0</text></g>
<g aria-label="$1,836" fill="#1b1f2b" font-size="26.3655"><text transform="matrix(0.8461 0 0 1 1161.39 770)">$</text><text transform="matrix(0.9589 0 0 1 1176.35 770)">1</text><text transform="matrix(1.3883 0 0 1 1190.14 770)">,</text><text transform="matrix(1.0148 0 0 1 1200.02 770)">8</text><text transform="matrix(0.9642 0 0 1 1216.40 770)">3</text><text transform="matrix(1.0391 0 0 1 1231.79 770)">6</text></g>
<g aria-label="$156" fill="#047857" stroke="#047857" stroke-width="0.25" stroke-linejoin="round" font-size="26.3655" font-weight="700"><text transform="matrix(0.9902 0 0 1 1424.83 770)">$</text><text transform="matrix(1.0523 0 0 1 1441.77 770)">1</text><text transform="matrix(1.0505 0 0 1 1459.24 770)">5</text><text transform="matrix(1.1429 0 0 1 1476.08 770)">6</text></g>
<g aria-label="9.29%" fill="#14213d" stroke="#14213d" stroke-width="0.25" stroke-linejoin="round" font-size="26.3655" font-weight="700"><text transform="matrix(1.1406 0 0 1 1617.05 770)">9</text><text transform="matrix(1.1864 0 0 1 1634.70 770)">.</text><text transform="matrix(1.0480 0 0 1 1644.83 770)">2</text><text transform="matrix(1.1406 0 0 1 1661.53 770)">9</text><text transform="matrix(1.0662 0 0 1 1678.85 770)">%</text></g>
<g aria-label="Entertainment" fill="#1b1f2b" font-size="26.3655"><text transform="matrix(0.8254 0 0 1 22.88 834)">E</text><text transform="matrix(1.0268 0 0 1 38.55 834)">n</text><text transform="matrix(1.2729 0 0 1 54.15 834)">t</text><text transform="matrix(1.0287 0 0 1 64.06 834)">e</text><text transform="matrix(1.2202 0 0 1 79.42 834)">r</text><text transform="matrix(1.2729 0 0 1 89.76 834)">t</text><text transform="matrix(0.8564 0 0 1 99.99 834)">a</text><text transform="matrix(0.9735 0 0 1 115.48 834)">i</text><text transform="matrix(1.0268 0 0 1 122.29 834)">n</text><text transform="matrix(1.0851 0 0 1 138.10 834)">m</text><text transform="matrix(1.0287 0 0 1 162.41 834)">e</text><text transform="matrix(1.0268 0 0 1 178.11 834)">n</text><text transform="matrix(1.2729 0 0 1 193.71 834)">t</text></g>
<g aria-label="$1,680" fill="#1b1f2b" font-size="26.3655"><text transform="matrix(0.8461 0 0 1 598.99 834)">$</text><text transform="matrix(0.9589 0 0 1 613.95 834)">1</text><text transform="matrix(1.3883 0 0 1 627.74 834)">,</text><text transform="matrix(1.0391 0 0 1 637.44 834)">6</text><text transform="matrix(1.0148 0 0 1 653.59 834)">8</text><text transform="matrix(1.0039 0 0 1 669.65 834)">0</text></g>
<g aria-label="$1,920" fill="#1b1f2b" font-size="26.3655"><text transform="matrix(0.8461 0 0 1 880.29 834)">$</text><text transform="matrix(0.9589 0 0 1 895.25 834)">1</text><text transform="matrix(1.3883 0 0 1 909.04 834)">,</text><text transform="matrix(1.0369 0 0 1 918.67 834)">9</text><text transform="matrix(0.9677 0 0 1 934.91 834)">2</text><text transform="matrix(1.0039 0 0 1 950.95 834)">0</text></g>
<g aria-label="$1,920" fill="#1b1f2b" font-size="26.3655"><text transform="matrix(0.8461 0 0 1 1161.39 834)">$</text><text transform="matrix(0.9589 0 0 1 1176.35 834)">1</text><text transform="matrix(1.3883 0 0 1 1190.14 834)">,</text><text transform="matrix(1.0369 0 0 1 1199.77 834)">9</text><text transform="matrix(0.9677 0 0 1 1216.01 834)">2</text><text transform="matrix(1.0039 0 0 1 1232.05 834)">0</text></g>
<g aria-label="$0" fill="#047857" stroke="#047857" stroke-width="0.25" stroke-linejoin="round" font-size="26.3655" font-weight="700"><text transform="matrix(0.9902 0 0 1 1459.78 834)">$</text><text transform="matrix(1.2017 0 0 1 1475.58 834)">0</text></g>
<g aria-label="0.01%" fill="#14213d" stroke="#14213d" stroke-width="0.25" stroke-linejoin="round" font-size="26.3655" font-weight="700"><text transform="matrix(1.2017 0 0 1 1616.74 834)">0</text><text transform="matrix(1.1864 0 0 1 1634.70 834)">.</text><text transform="matrix(1.2017 0 0 1 1643.75 834)">0</text><text transform="matrix(1.0523 0 0 1 1662.36 834)">1</text><text transform="matrix(1.0662 0 0 1 1678.85 834)">%</text></g>
<g aria-label="Shopping" fill="#1b1f2b" font-size="26.3655"><text transform="matrix(0.8490 0 0 1 22.84 898)">S</text><text transform="matrix(1.0340 0 0 1 38.53 898)">h</text><text transform="matrix(1.0125 0 0 1 54.32 898)">o</text><text transform="matrix(1.0361 0 0 1 69.94 898)">p</text><text transform="matrix(1.0361 0 0 1 85.87 898)">p</text><text transform="matrix(0.9735 0 0 1 101.94 898)">i</text><text transform="matrix(1.0268 0 0 1 108.75 898)">n</text><text transform="matrix(1.0351 0 0 1 124.42 898)">g</text></g>
<g aria-label="$1,560" fill="#1b1f2b" font-size="26.3655"><text transform="matrix(0.8461 0 0 1 598.99 898)">$</text><text transform="matrix(0.9589 0 0 1 613.95 898)">1</text><text transform="matrix(1.3883 0 0 1 627.74 898)">,</text><text transform="matrix(0.9475 0 0 1 638.01 898)">5</text><text transform="matrix(1.0391 0 0 1 653.41 898)">6</text><text transform="matrix(1.0039 0 0 1 669.65 898)">0</text></g>
<g aria-label="$1,920" fill="#1b1f2b" font-size="26.3655"><text transform="matrix(0.8461 0 0 1 880.29 898)">$</text><text transform="matrix(0.9589 0 0 1 895.25 898)">1</text><text transform="matrix(1.3883 0 0 1 909.04 898)">,</text><text transform="matrix(1.0369 0 0 1 918.67 898)">9</text><text transform="matrix(0.9677 0 0 1 934.91 898)">2</text><text transform="matrix(1.0039 0 0 1 950.95 898)">0</text></g>
<g aria-label="$2,220" fill="#1b1f2b" font-size="26.3655"><text transform="matrix(0.8461 0 0 1 1161.39 898)">$</text><text transform="matrix(0.9677 0 0 1 1176.07 898)">2</text><text transform="matrix(1.3883 0 0 1 1190.14 898)">,</text><text transform="matrix(0.9677 0 0 1 1200.03 898)">2</text><text transform="matrix(0.9677 0 0 1 1216.01 898)">2</text><text transform="matrix(1.0039 0 0 1 1232.05 898)">0</text></g>
<g aria-label="$300" fill="#047857" stroke="#047857" stroke-width="0.25" stroke-linejoin="round" font-size="26.3655" font-weight="700"><text transform="matrix(0.9902 0 0 1 1424.83 898)">$</text><text transform="matrix(1.0525 0 0 1 1441.73 898)">3</text><text transform="matrix(1.2017 0 0 1 1458.11 898)">0</text><text transform="matrix(1.2017 0 0 1 1475.58 898)">0</text></g>
<g aria-label="15.63%" fill="#14213d" stroke="#14213d" stroke-width="0.25" stroke-linejoin="round" font-size="26.3655" font-weight="700"><text transform="matrix(1.0523 0 0 1 1600.40 898)">1</text><text transform="matrix(1.0505 0 0 1 1617.88 898)">5</text><text transform="matrix(1.1864 0 0 1 1634.70 898)">.</text><text transform="matrix(1.1429 0 0 1 1644.25 898)">6</text><text transform="matrix(1.0525 0 0 1 1662.31 898)">3</text><text transform="matrix(1.0662 0 0 1 1678.85 898)">%</text></g>
<g aria-label="Subscriptions" fill="#1b1f2b" font-size="26.3655"><text transform="matrix(0.8490 0 0 1 22.84 962)">S</text><text transform="matrix(1.0268 0 0 1 38.51 962)">u</text><text transform="matrix(1.0361 0 0 1 54.57 962)">b</text><text transform="matrix(0.9129 0 0 1 70.68 962)">s</text><text transform="matrix(0.9556 0 0 1 83.39 962)">c</text><text transform="matrix(1.2202 0 0 1 97.02 962)">r</text><text transform="matrix(0.9735 0 0 1 107.85 962)">i</text><text transform="matrix(1.0361 0 0 1 114.70 962)">p</text><text transform="matrix(1.2729 0 0 1 130.29 962)">t</text><text transform="matrix(0.9735 0 0 1 140.61 962)">i</text><text transform="matrix(1.0125 0 0 1 147.21 962)">o</text><text transform="matrix(1.0268 0 0 1 162.79 962)">n</text><text transform="matrix(0.9129 0 0 1 178.91 962)">s</text></g>
<g aria-label="$648" fill="#1b1f2b" font-size="26.3655"><text transform="matrix(0.8461 0 0 1 622.94 962)">$</text><text transform="matrix(1.0391 0 0 1 637.44 962)">6</text><text transform="matrix(1.0041 0 0 1 653.67 962)">4</text><text transform="matrix(1.0148 0 0 1 669.57 962)">8</text></g>
<g aria-label="$720" fill="#1b1f2b" font-size="26.3655"><text transform="matrix(0.8461 0 0 1 904.24 962)">$</text><text transform="matrix(0.9820 0 0 1 919.11 962)">7</text><text transform="matrix(0.9677 0 0 1 934.91 962)">2</text><text transform="matrix(1.0039 0 0 1 950.95 962)">0</text></g>
<g aria-label="$876" fill="#1b1f2b" font-size="26.3655"><text transform="matrix(0.8461 0 0 1 1185.34 962)">$</text><text transform="matrix(1.0148 0 0 1 1200.02 962)">8</text><text transform="matrix(0.9820 0 0 1 1216.18 962)">7</text><text transform="matrix(1.0391 0 0 1 1231.79 962)">6</text></g>
<g aria-label="$156" fill="#047857" stroke="#047857" stroke-width="0.25" stroke-linejoin="round" font-size="26.3655" font-weight="700"><text transform="matrix(0.9902 0 0 1 1424.83 962)">$</text><text transform="matrix(1.0523 0 0 1 1441.77 962)">1</text><text transform="matrix(1.0505 0 0 1 1459.24 962)">5</text><text transform="matrix(1.1429 0 0 1 1476.08 962)">6</text></g>
<g aria-label="21.67%" fill="#14213d" stroke="#14213d" stroke-width="0.25" stroke-linejoin="round" font-size="26.3655" font-weight="700"><text transform="matrix(1.0480 0 0 1 1600.35 962)">2</text><text transform="matrix(1.0523 0 0 1 1617.87 962)">1</text><text transform="matrix(1.1864 0 0 1 1634.70 962)">.</text><text transform="matrix(1.1429 0 0 1 1644.25 962)">6</text><text transform="matrix(1.1149 0 0 1 1661.69 962)">7</text><text transform="matrix(1.0662 0 0 1 1678.85 962)">%</text></g>
<g aria-label="Savings" fill="#1b1f2b" font-size="26.3655"><text transform="matrix(0.8490 0 0 1 22.84 1026)">S</text><text transform="matrix(0.8564 0 0 1 38.69 1026)">a</text><text transform="matrix(1.0278 0 0 1 54.18 1026)">v</text><text transform="matrix(0.9735 0 0 1 69.04 1026)">i</text><text transform="matrix(1.0268 0 0 1 75.85 1026)">n</text><text transform="matrix(1.0351 0 0 1 91.52 1026)">g</text><text transform="matrix(0.9129 0 0 1 107.91 1026)">s</text></g>
<g aria-label="$6,600" fill="#1b1f2b" font-size="26.3655"><text transform="matrix(0.8461 0 0 1 598.99 1026)">$</text><text transform="matrix(1.0391 0 0 1 613.48 1026)">6</text><text transform="matrix(1.3883 0 0 1 627.74 1026)">,</text><text transform="matrix(1.0391 0 0 1 637.44 1026)">6</text><text transform="matrix(1.0039 0 0 1 653.67 1026)">0</text><text transform="matrix(1.0039 0 0 1 669.65 1026)">0</text></g>
<g aria-label="$7,200" fill="#1b1f2b" font-size="26.3655"><text transform="matrix(0.8461 0 0 1 880.29 1026)">$</text><text transform="matrix(0.9820 0 0 1 895.15 1026)">7</text><text transform="matrix(1.3883 0 0 1 909.04 1026)">,</text><text transform="matrix(0.9677 0 0 1 918.93 1026)">2</text><text transform="matrix(1.0039 0 0 1 934.97 1026)">0</text><text transform="matrix(1.0039 0 0 1 950.95 1026)">0</text></g>
<g aria-label="$8,100" fill="#1b1f2b" font-size="26.3655"><text transform="matrix(0.8461 0 0 1 1161.39 1026)">$</text><text transform="matrix(1.0148 0 0 1 1176.06 1026)">8</text><text transform="matrix(1.3883 0 0 1 1190.14 1026)">,</text><text transform="matrix(0.9589 0 0 1 1200.31 1026)">1</text><text transform="matrix(1.0039 0 0 1 1216.07 1026)">0</text><text transform="matrix(1.0039 0 0 1 1232.05 1026)">0</text></g>
<g aria-label="$900" fill="#047857" stroke="#047857" stroke-width="0.25" stroke-linejoin="round" font-size="26.3655" font-weight="700"><text transform="matrix(0.9902 0 0 1 1424.83 1026)">$</text><text transform="matrix(1.1406 0 0 1 1440.94 1026)">9</text><text transform="matrix(1.2017 0 0 1 1458.11 1026)">0</text><text transform="matrix(1.2017 0 0 1 1475.58 1026)">0</text></g>
<g aria-label="12.50%" fill="#14213d" stroke="#14213d" stroke-width="0.25" stroke-linejoin="round" font-size="26.3655" font-weight="700"><text transform="matrix(1.0523 0 0 1 1600.40 1026)">1</text><text transform="matrix(1.0480 0 0 1 1617.82 1026)">2</text><text transform="matrix(1.1864 0 0 1 1634.70 1026)">.</text><text transform="matrix(1.0505 0 0 1 1644.89 1026)">5</text><text transform="matrix(1.2017 0 0 1 1661.22 1026)">0</text><text transform="matrix(1.0662 0 0 1 1678.85 1026)">%</text></g>
<g aria-label="Education" fill="#1b1f2b" font-size="26.3655"><text transform="matrix(0.8254 0 0 1 22.88 1090)">E</text><text transform="matrix(1.0351 0 0 1 38.30 1090)">d</text><text transform="matrix(1.0268 0 0 1 54.38 1090)">u</text><text transform="matrix(0.9556 0 0 1 70.23 1090)">c</text><text transform="matrix(0.8564 0 0 1 84.27 1090)">a</text><text transform="matrix(1.2729 0 0 1 99.28 1090)">t</text><text transform="matrix(0.9735 0 0 1 109.61 1090)">i</text><text transform="matrix(1.0125 0 0 1 116.20 1090)">o</text><text transform="matrix(1.0268 0 0 1 131.78 1090)">n</text></g>
<g aria-label="$840" fill="#1b1f2b" font-size="26.3655"><text transform="matrix(0.8461 0 0 1 622.94 1090)">$</text><text transform="matrix(1.0148 0 0 1 637.62 1090)">8</text><text transform="matrix(1.0041 0 0 1 653.67 1090)">4</text><text transform="matrix(1.0039 0 0 1 669.65 1090)">0</text></g>
<g aria-label="$1,080" fill="#1b1f2b" font-size="26.3655"><text transform="matrix(0.8461 0 0 1 880.29 1090)">$</text><text transform="matrix(0.9589 0 0 1 895.25 1090)">1</text><text transform="matrix(1.3883 0 0 1 909.04 1090)">,</text><text transform="matrix(1.0039 0 0 1 919.00 1090)">0</text><text transform="matrix(1.0148 0 0 1 934.89 1090)">8</text><text transform="matrix(1.0039 0 0 1 950.95 1090)">0</text></g>
<g aria-label="$900" fill="#1b1f2b" font-size="26.3655"><text transform="matrix(0.8461 0 0 1 1185.34 1090)">$</text><text transform="matrix(1.0369 0 0 1 1199.77 1090)">9</text><text transform="matrix(1.0039 0 0 1 1216.07 1090)">0</text><text transform="matrix(1.0039 0 0 1 1232.05 1090)">0</text></g>
<g aria-label="-$180" fill="#b91c1c" stroke="#b91c1c" stroke-width="0.25" stroke-linejoin="round" font-size="26.3655" font-weight="700"><text transform="matrix(1.1502 0 0 1 1412.97 1090)">-</text><text transform="matrix(0.9902 0 0 1 1424.83 1090)">$</text><text transform="matrix(1.0523 0 0 1 1441.77 1090)">1</text><text transform="matrix(1.1050 0 0 1 1458.77 1090)">8</text><text transform="matrix(1.2017 0 0 1 1475.58 1090)">0</text></g>
<g aria-label="-16.67%" fill="#14213d" stroke="#14213d" stroke-width="0.25" stroke-linejoin="round" font-size="26.3655" font-weight="700"><text transform="matrix(1.1502 0 0 1 1589.07 1090)">-</text><text transform="matrix(1.0523 0 0 1 1600.40 1090)">1</text><text transform="matrix(1.1429 0 0 1 1617.24 1090)">6</text><text transform="matrix(1.1864 0 0 1 1634.70 1090)">.</text><text transform="matrix(1.1429 0 0 1 1644.25 1090)">6</text><text transform="matrix(1.1149 0 0 1 1661.69 1090)">7</text><text transform="matrix(1.0662 0 0 1 1678.85 1090)">%</text></g>
<g aria-label="Other" fill="#1b1f2b" font-size="26.3655"><text transform="matrix(0.9415 0 0 1 22.43 1154)">O</text><text transform="matrix(1.2729 0 0 1 42.13 1154)">t</text><text transform="matrix(1.0340 0 0 1 52.20 1154)">h</text><text transform="matrix(1.0287 0 0 1 67.96 1154)">e</text><text transform="matrix(1.2202 0 0 1 83.32 1154)">r</text></g>
<g aria-label="$720" fill="#1b1f2b" font-size="26.3655"><text transform="matrix(0.8461 0 0 1 622.94 1154)">$</text><text transform="matrix(0.9820 0 0 1 637.81 1154)">7</text><text transform="matrix(0.9677 0 0 1 653.61 1154)">2</text><text transform="matrix(1.0039 0 0 1 669.65 1154)">0</text></g>
<g aria-label="$900" fill="#1b1f2b" font-size="26.3655"><text transform="matrix(0.8461 0 0 1 904.24 1154)">$</text><text transform="matrix(1.0369 0 0 1 918.67 1154)">9</text><text transform="matrix(1.0039 0 0 1 934.97 1154)">0</text><text transform="matrix(1.0039 0 0 1 950.95 1154)">0</text></g>
<g aria-label="$1,080" fill="#1b1f2b" font-size="26.3655"><text transform="matrix(0.8461 0 0 1 1161.39 1154)">$</text><text transform="matrix(0.9589 0 0 1 1176.35 1154)">1</text><text transform="matrix(1.3883 0 0 1 1190.14 1154)">,</text><text transform="matrix(1.0039 0 0 1 1200.10 1154)">0</text><text transform="matrix(1.0148 0 0 1 1215.99 1154)">8</text><text transform="matrix(1.0039 0 0 1 1232.05 1154)">0</text></g>
<g aria-label="$180" fill="#047857" stroke="#047857" stroke-width="0.25" stroke-linejoin="round" font-size="26.3655" font-weight="700"><text transform="matrix(0.9902 0 0 1 1424.83 1154)">$</text><text transform="matrix(1.0523 0 0 1 1441.77 1154)">1</text><text transform="matrix(1.1050 0 0 1 1458.77 1154)">8</text><text transform="matrix(1.2017 0 0 1 1475.58 1154)">0</text></g>
<g aria-label="20.00%" fill="#14213d" stroke="#14213d" stroke-width="0.25" stroke-linejoin="round" font-size="26.3655" font-weight="700"><text transform="matrix(1.0480 0 0 1 1600.35 1154)">2</text><text transform="matrix(1.2017 0 0 1 1616.74 1154)">0</text><text transform="matrix(1.1864 0 0 1 1634.70 1154)">.</text><text transform="matrix(1.2017 0 0 1 1643.75 1154)">0</text><text transform="matrix(1.2017 0 0 1 1661.22 1154)">0</text><text transform="matrix(1.0662 0 0 1 1678.85 1154)">%</text></g>
<g aria-label="TOTAL" fill="#1b1f2b" stroke="#1b1f2b" stroke-width="0.25" stroke-linejoin="round" font-size="26.3655" font-weight="700"><text transform="matrix(1.0866 0 0 1 48.38 1218)">T</text><text transform="matrix(1.0280 0 0 1 65.84 1218)">O</text><text transform="matrix(1.0866 0 0 1 86.85 1218)">T</text><text transform="matrix(1.0848 0 0 1 103.59 1218)">A</text><text transform="matrix(0.9614 0 0 1 124.22 1218)">L</text></g>
<g aria-label="$55,008" fill="#1b1f2b" stroke="#1b1f2b" stroke-width="0.25" stroke-linejoin="round" font-size="26.3655" font-weight="700"><text transform="matrix(0.9902 0 0 1 572.25 1218)">$</text><text transform="matrix(1.0505 0 0 1 589.19 1218)">5</text><text transform="matrix(1.0505 0 0 1 606.66 1218)">5</text><text transform="matrix(1.4952 0 0 1 621.71 1218)">,</text><text transform="matrix(1.2017 0 0 1 632.54 1218)">0</text><text transform="matrix(1.2017 0 0 1 650.01 1218)">0</text><text transform="matrix(1.1050 0 0 1 668.14 1218)">8</text></g>
<g aria-label="$59,280" fill="#1b1f2b" stroke="#1b1f2b" stroke-width="0.25" stroke-linejoin="round" font-size="26.3655" font-weight="700"><text transform="matrix(0.9902 0 0 1 853.55 1218)">$</text><text transform="matrix(1.0505 0 0 1 870.49 1218)">5</text><text transform="matrix(1.1406 0 0 1 887.13 1218)">9</text><text transform="matrix(1.4952 0 0 1 903.01 1218)">,</text><text transform="matrix(1.0480 0 0 1 914.92 1218)">2</text><text transform="matrix(1.1050 0 0 1 931.97 1218)">8</text><text transform="matrix(1.2017 0 0 1 948.78 1218)">0</text></g>
<g aria-label="$62,088" fill="#1b1f2b" stroke="#1b1f2b" stroke-width="0.25" stroke-linejoin="round" font-size="26.3655" font-weight="700"><text transform="matrix(0.9902 0 0 1 1134.65 1218)">$</text><text transform="matrix(1.1429 0 0 1 1150.96 1218)">6</text><text transform="matrix(1.0480 0 0 1 1169.01 1218)">2</text><text transform="matrix(1.4952 0 0 1 1184.11 1218)">,</text><text transform="matrix(1.2017 0 0 1 1194.94 1218)">0</text><text transform="matrix(1.1050 0 0 1 1213.07 1218)">8</text><text transform="matrix(1.1050 0 0 1 1230.54 1218)">8</text></g>
<g aria-label="$2,808" fill="#1b1f2b" stroke="#1b1f2b" stroke-width="0.25" stroke-linejoin="round" font-size="26.3655" font-weight="700"><text transform="matrix(0.9902 0 0 1 1397.82 1218)">$</text><text transform="matrix(1.0480 0 0 1 1414.71 1218)">2</text><text transform="matrix(1.4952 0 0 1 1429.81 1218)">,</text><text transform="matrix(1.1050 0 0 1 1441.30 1218)">8</text><text transform="matrix(1.2017 0 0 1 1458.11 1218)">0</text><text transform="matrix(1.1050 0 0 1 1476.24 1218)">8</text></g>
<g aria-label="4.74%" fill="#1b1f2b" stroke="#1b1f2b" stroke-width="0.25" stroke-linejoin="round" font-size="26.3655" font-weight="700"><text transform="matrix(1.0757 0 0 1 1617.49 1218)">4</text><text transform="matrix(1.1864 0 0 1 1634.70 1218)">.</text><text transform="matrix(1.1149 0 0 1 1644.22 1218)">7</text><text transform="matrix(1.0757 0 0 1 1661.97 1218)">4</text><text transform="matrix(1.0662 0 0 1 1678.85 1218)">%</text></g>
<g aria-label="YEAR INSIGHTS" fill="#14213d" stroke="#14213d" stroke-width="0.28" stroke-linejoin="round" font-size="28.980000000000004" font-weight="700"><text transform="matrix(1.1175 0 0 1 47.65 1318.8)">Y</text><text transform="matrix(0.8794 0 0 1 69.28 1318.8)">E</text><text transform="matrix(1.0848 0 0 1 86.66 1318.8)">A</text><text transform="matrix(0.9875 0 0 1 109.29 1318.8)">R</text><text transform="matrix(1.2429 0 0 1 139.65 1318.8)">I</text><text transform="matrix(1.0584 0 0 1 150.28 1318.8)">N</text><text transform="matrix(0.9143 0 0 1 174.12 1318.8)">S</text><text transform="matrix(1.2429 0 0 1 192.90 1318.8)">I</text><text transform="matrix(0.9841 0 0 1 203.25 1318.8)">G</text><text transform="matrix(1.0584 0 0 1 226.18 1318.8)">H</text><text transform="matrix(1.0866 0 0 1 248.58 1318.8)">T</text><text transform="matrix(0.9143 0 0 1 268.84 1318.8)">S</text></g>
<g clip-path="url(#lab)"><g aria-label="2024 Annual Total" fill="#1b1f2b" stroke="#1b1f2b" stroke-width="0.25" stroke-linejoin="round" font-size="26.3655" font-weight="700"><text transform="matrix(1.0480 0 0 1 49.33 1385)">2</text><text transform="matrix(1.2017 0 0 1 65.72 1385)">0</text><text transform="matrix(1.0480 0 0 1 84.27 1385)">2</text><text transform="matrix(1.0757 0 0 1 101.41 1385)">4</text><text transform="matrix(1.0848 0 0 1 126.34 1385)">A</text><text transform="matrix(1.0843 0 0 1 146.59 1385)">n</text><text transform="matrix(1.0843 0 0 1 164.46 1385)">n</text><text transform="matrix(1.0843 0 0 1 182.30 1385)">u</text><text transform="matrix(0.9881 0 0 1 200.31 1385)">a</text><text transform="matrix(1.2134 0 0 1 216.81 1385)">l</text><text transform="matrix(1.0866 0 0 1 234.08 1385)">T</text><text transform="matrix(1.0746 0 0 1 251.38 1385)">o</text><text transform="matrix(1.3638 0 0 1 268.55 1385)">t</text><text transform="matrix(0.9881 0 0 1 280.98 1385)">a</text><text transform="matrix(1.2134 0 0 1 297.49 1385)">l</text></g></g>
<g aria-label="$55,008" fill="#14213d" stroke="#14213d" stroke-width="0.40" stroke-linejoin="round" font-size="42.21000000000001" font-weight="700"><text transform="matrix(0.9902 0 0 1 457.24 1390.3)">$</text><text transform="matrix(1.0505 0 0 1 484.36 1390.3)">5</text><text transform="matrix(1.0505 0 0 1 512.34 1390.3)">5</text><text transform="matrix(1.4952 0 0 1 536.42 1390.3)">,</text><text transform="matrix(1.2017 0 0 1 553.76 1390.3)">0</text><text transform="matrix(1.2017 0 0 1 581.73 1390.3)">0</text><text transform="matrix(1.1050 0 0 1 610.76 1390.3)">8</text></g>
<g clip-path="url(#lab)"><g aria-label="2025 Annual Total" fill="#1b1f2b" stroke="#1b1f2b" stroke-width="0.25" stroke-linejoin="round" font-size="26.3655" font-weight="700"><text transform="matrix(1.0480 0 0 1 49.33 1449)">2</text><text transform="matrix(1.2017 0 0 1 65.72 1449)">0</text><text transform="matrix(1.0480 0 0 1 84.27 1449)">2</text><text transform="matrix(1.0505 0 0 1 101.80 1449)">5</text><text transform="matrix(1.0848 0 0 1 126.34 1449)">A</text><text transform="matrix(1.0843 0 0 1 146.59 1449)">n</text><text transform="matrix(1.0843 0 0 1 164.46 1449)">n</text><text transform="matrix(1.0843 0 0 1 182.30 1449)">u</text><text transform="matrix(0.9881 0 0 1 200.31 1449)">a</text><text transform="matrix(1.2134 0 0 1 216.81 1449)">l</text><text transform="matrix(1.0866 0 0 1 234.08 1449)">T</text><text transform="matrix(1.0746 0 0 1 251.38 1449)">o</text><text transform="matrix(1.3638 0 0 1 268.55 1449)">t</text><text transform="matrix(0.9881 0 0 1 280.98 1449)">a</text><text transform="matrix(1.2134 0 0 1 297.49 1449)">l</text></g></g>
<g aria-label="$59,280" fill="#14213d" stroke="#14213d" stroke-width="0.40" stroke-linejoin="round" font-size="42.21000000000001" font-weight="700"><text transform="matrix(0.9902 0 0 1 456.96 1454.3)">$</text><text transform="matrix(1.0505 0 0 1 484.08 1454.3)">5</text><text transform="matrix(1.1406 0 0 1 510.72 1454.3)">9</text><text transform="matrix(1.4952 0 0 1 536.14 1454.3)">,</text><text transform="matrix(1.0480 0 0 1 555.20 1454.3)">2</text><text transform="matrix(1.1050 0 0 1 582.50 1454.3)">8</text><text transform="matrix(1.2017 0 0 1 609.42 1454.3)">0</text></g>
<g clip-path="url(#lab)"><g aria-label="2026 Annual Total (Projected)" fill="#1b1f2b" stroke="#1b1f2b" stroke-width="0.25" stroke-linejoin="round" font-size="26.3655" font-weight="700"><text transform="matrix(1.0480 0 0 1 49.33 1513)">2</text><text transform="matrix(1.2017 0 0 1 65.72 1513)">0</text><text transform="matrix(1.0480 0 0 1 84.27 1513)">2</text><text transform="matrix(1.1429 0 0 1 101.17 1513)">6</text><text transform="matrix(1.0848 0 0 1 126.34 1513)">A</text><text transform="matrix(1.0843 0 0 1 146.59 1513)">n</text><text transform="matrix(1.0843 0 0 1 164.46 1513)">n</text><text transform="matrix(1.0843 0 0 1 182.30 1513)">u</text><text transform="matrix(0.9881 0 0 1 200.31 1513)">a</text><text transform="matrix(1.2134 0 0 1 216.81 1513)">l</text><text transform="matrix(1.0866 0 0 1 234.08 1513)">T</text><text transform="matrix(1.0746 0 0 1 251.38 1513)">o</text><text transform="matrix(1.3638 0 0 1 268.55 1513)">t</text><text transform="matrix(0.9881 0 0 1 280.98 1513)">a</text><text transform="matrix(1.2134 0 0 1 297.49 1513)">l</text><text transform="matrix(0.9820 0 0 1 315.83 1513)">(</text><text transform="matrix(1.0099 0 0 1 326.96 1513)">P</text><text transform="matrix(1.2558 0 0 1 344.76 1513)">r</text><text transform="matrix(1.0746 0 0 1 357.19 1513)">o</text><text transform="matrix(1.2462 0 0 1 374.15 1513)">j</text><text transform="matrix(1.1575 0 0 1 382.97 1513)">e</text><text transform="matrix(0.9428 0 0 1 400.22 1513)">c</text><text transform="matrix(1.3638 0 0 1 414.89 1513)">t</text><text transform="matrix(1.1575 0 0 1 426.88 1513)">e</text><text transform="matrix(1.1093 0 0 1 443.96 1513)">d</text><text transform="matrix(0.9820 0 0 1 463.99 1513)">)</text></g></g>
<g aria-label="$62,088" fill="#14213d" stroke="#14213d" stroke-width="0.40" stroke-linejoin="round" font-size="42.21000000000001" font-weight="700"><text transform="matrix(0.9902 0 0 1 457.24 1518.3)">$</text><text transform="matrix(1.1429 0 0 1 483.35 1518.3)">6</text><text transform="matrix(1.0480 0 0 1 512.24 1518.3)">2</text><text transform="matrix(1.4952 0 0 1 536.42 1518.3)">,</text><text transform="matrix(1.2017 0 0 1 553.76 1518.3)">0</text><text transform="matrix(1.1050 0 0 1 582.78 1518.3)">8</text><text transform="matrix(1.1050 0 0 1 610.76 1518.3)">8</text></g>
<g clip-path="url(#lab)"><g aria-label="Year-over-Year Change (2025-2026)" fill="#1b1f2b" stroke="#1b1f2b" stroke-width="0.25" stroke-linejoin="round" font-size="26.3655" font-weight="700"><text transform="matrix(1.1175 0 0 1 47.55 1577)">Y</text><text transform="matrix(1.1575 0 0 1 66.37 1577)">e</text><text transform="matrix(0.9881 0 0 1 83.83 1577)">a</text><text transform="matrix(1.2558 0 0 1 100.38 1577)">r</text><text transform="matrix(1.1502 0 0 1 113.02 1577)">-</text><text transform="matrix(1.0746 0 0 1 123.23 1577)">o</text><text transform="matrix(1.0814 0 0 1 140.78 1577)">v</text><text transform="matrix(1.1575 0 0 1 156.77 1577)">e</text><text transform="matrix(1.2558 0 0 1 173.84 1577)">r</text><text transform="matrix(1.1502 0 0 1 186.47 1577)">-</text><text transform="matrix(1.1175 0 0 1 195.97 1577)">Y</text><text transform="matrix(1.1575 0 0 1 214.79 1577)">e</text><text transform="matrix(0.9881 0 0 1 232.24 1577)">a</text><text transform="matrix(1.2558 0 0 1 248.80 1577)">r</text><text transform="matrix(0.9033 0 0 1 270.27 1577)">C</text><text transform="matrix(1.0932 0 0 1 288.52 1577)">h</text><text transform="matrix(0.9881 0 0 1 306.62 1577)">a</text><text transform="matrix(1.0843 0 0 1 323.47 1577)">n</text><text transform="matrix(1.1114 0 0 1 341.05 1577)">g</text><text transform="matrix(1.1575 0 0 1 358.98 1577)">e</text><text transform="matrix(0.9820 0 0 1 385.74 1577)">(</text><text transform="matrix(1.0480 0 0 1 397.37 1577)">2</text><text transform="matrix(1.2017 0 0 1 413.77 1577)">0</text><text transform="matrix(1.0480 0 0 1 432.32 1577)">2</text><text transform="matrix(1.0505 0 0 1 449.85 1577)">5</text><text transform="matrix(1.1502 0 0 1 466.41 1577)">-</text><text transform="matrix(1.0480 0 0 1 477.68 1577)">2</text><text transform="matrix(1.2017 0 0 1 494.07 1577)">0</text><text transform="matrix(1.0480 0 0 1 512.62 1577)">2</text><text transform="matrix(1.1429 0 0 1 529.52 1577)">6</text><text transform="matrix(0.9820 0 0 1 548.53 1577)">)</text></g></g>
<g aria-label="$2,808" fill="#14213d" stroke="#14213d" stroke-width="0.40" stroke-linejoin="round" font-size="42.21000000000001" font-weight="700"><text transform="matrix(0.9902 0 0 1 471.23 1582.3)">$</text><text transform="matrix(1.0480 0 0 1 498.25 1582.3)">2</text><text transform="matrix(1.4952 0 0 1 522.44 1582.3)">,</text><text transform="matrix(1.1050 0 0 1 540.82 1582.3)">8</text><text transform="matrix(1.2017 0 0 1 567.74 1582.3)">0</text><text transform="matrix(1.1050 0 0 1 596.77 1582.3)">8</text></g>
<g aria-label="Ultimate Template by FinancialAha.com - Premium financial tools and templates" fill="#977646" stroke="#977646" stroke-width="0.20" stroke-linejoin="round" font-size="21.073500000000003" font-weight="700"><text transform="matrix(0.9957 0 0 1 48.34 1664.8)">U</text><text transform="matrix(1.2134 0 0 1 63.95 1664.8)">l</text><text transform="matrix(1.3638 0 0 1 70.85 1664.8)">t</text><text transform="matrix(1.2134 0 0 1 80.43 1664.8)">i</text><text transform="matrix(1.1008 0 0 1 87.54 1664.8)">m</text><text transform="matrix(0.9881 0 0 1 108.57 1664.8)">a</text><text transform="matrix(1.3638 0 0 1 121.78 1664.8)">t</text><text transform="matrix(1.1575 0 0 1 131.37 1664.8)">e</text><text transform="matrix(1.0866 0 0 1 151.90 1664.8)">T</text><text transform="matrix(1.1575 0 0 1 165.66 1664.8)">e</text><text transform="matrix(1.1008 0 0 1 179.50 1664.8)">m</text><text transform="matrix(1.1093 0 0 1 200.42 1664.8)">p</text><text transform="matrix(1.2134 0 0 1 214.54 1664.8)">l</text><text transform="matrix(0.9881 0 0 1 221.77 1664.8)">a</text><text transform="matrix(1.3638 0 0 1 234.98 1664.8)">t</text><text transform="matrix(1.1575 0 0 1 244.56 1664.8)">e</text><text transform="matrix(1.1093 0 0 1 265.40 1664.8)">b</text><text transform="matrix(1.0903 0 0 1 279.69 1664.8)">y</text><text transform="matrix(0.9524 0 0 1 300.19 1664.8)">F</text><text transform="matrix(1.2134 0 0 1 313.30 1664.8)">i</text><text transform="matrix(1.0843 0 0 1 320.46 1664.8)">n</text><text transform="matrix(0.9881 0 0 1 334.82 1664.8)">a</text><text transform="matrix(1.0843 0 0 1 348.29 1664.8)">n</text><text transform="matrix(0.9428 0 0 1 362.49 1664.8)">c</text><text transform="matrix(1.2134 0 0 1 374.20 1664.8)">i</text><text transform="matrix(0.9881 0 0 1 381.43 1664.8)">a</text><text transform="matrix(1.2134 0 0 1 394.62 1664.8)">l</text><text transform="matrix(1.0848 0 0 1 401.13 1664.8)">A</text><text transform="matrix(1.0932 0 0 1 417.21 1664.8)">h</text><text transform="matrix(0.9881 0 0 1 431.67 1664.8)">a</text><text transform="matrix(1.1864 0 0 1 445.31 1664.8)">.</text><text transform="matrix(0.9428 0 0 1 452.67 1664.8)">c</text><text transform="matrix(1.0746 0 0 1 464.46 1664.8)">o</text><text transform="matrix(1.1008 0 0 1 478.41 1664.8)">m</text><text transform="matrix(1.1502 0 0 1 506.31 1664.8)">-</text><text transform="matrix(1.0099 0 0 1 521.91 1664.8)">P</text><text transform="matrix(1.2558 0 0 1 536.14 1664.8)">r</text><text transform="matrix(1.1575 0 0 1 546.01 1664.8)">e</text><text transform="matrix(1.1008 0 0 1 559.85 1664.8)">m</text><text transform="matrix(1.2134 0 0 1 580.52 1664.8)">i</text><text transform="matrix(1.0843 0 0 1 587.65 1664.8)">u</text><text transform="matrix(1.1008 0 0 1 601.93 1664.8)">m</text><text transform="matrix(1.2728 0 0 1 629.61 1664.8)">f</text><text transform="matrix(1.2134 0 0 1 638.32 1664.8)">i</text><text transform="matrix(1.0843 0 0 1 645.48 1664.8)">n</text><text transform="matrix(0.9881 0 0 1 659.84 1664.8)">a</text><text transform="matrix(1.0843 0 0 1 673.31 1664.8)">n</text><text transform="matrix(0.9428 0 0 1 687.51 1664.8)">c</text><text transform="matrix(1.2134 0 0 1 699.22 1664.8)">i</text><text transform="matrix(0.9881 0 0 1 706.45 1664.8)">a</text><text transform="matrix(1.2134 0 0 1 719.64 1664.8)">l</text><text transform="matrix(1.3638 0 0 1 733.52 1664.8)">t</text><text transform="matrix(1.0746 0 0 1 743.18 1664.8)">o</text><text transform="matrix(1.0746 0 0 1 756.97 1664.8)">o</text><text transform="matrix(1.2134 0 0 1 770.68 1664.8)">l</text><text transform="matrix(0.9844 0 0 1 777.97 1664.8)">s</text><text transform="matrix(0.9881 0 0 1 796.84 1664.8)">a</text><text transform="matrix(1.0843 0 0 1 810.31 1664.8)">n</text><text transform="matrix(1.1093 0 0 1 824.36 1664.8)">d</text><text transform="matrix(1.3638 0 0 1 845.69 1664.8)">t</text><text transform="matrix(1.1575 0 0 1 855.28 1664.8)">e</text><text transform="matrix(1.1008 0 0 1 869.12 1664.8)">m</text><text transform="matrix(1.1093 0 0 1 890.04 1664.8)">p</text><text transform="matrix(1.2134 0 0 1 904.16 1664.8)">l</text><text transform="matrix(0.9881 0 0 1 911.39 1664.8)">a</text><text transform="matrix(1.3638 0 0 1 924.60 1664.8)">t</text><text transform="matrix(1.1575 0 0 1 934.19 1664.8)">e</text><text transform="matrix(0.9844 0 0 1 948.20 1664.8)">s</text></g>
<g aria-label="Explore more Ultimate templates at FinancialAha.com" fill="#000080" font-size="21.073500000000003"><text transform="matrix(0.8254 0 0 1 48.87 1713.6)">E</text><text transform="matrix(1.0565 0 0 1 61.34 1713.6)">x</text><text transform="matrix(1.0361 0 0 1 73.30 1713.6)">p</text><text transform="matrix(0.9735 0 0 1 86.14 1713.6)">l</text><text transform="matrix(1.0125 0 0 1 91.42 1713.6)">o</text><text transform="matrix(1.2202 0 0 1 103.60 1713.6)">r</text><text transform="matrix(1.0287 0 0 1 111.92 1713.6)">e</text><text transform="matrix(1.0851 0 0 1 130.77 1713.6)">m</text><text transform="matrix(1.0125 0 0 1 150.22 1713.6)">o</text><text transform="matrix(1.2202 0 0 1 162.41 1713.6)">r</text><text transform="matrix(1.0287 0 0 1 170.73 1713.6)">e</text><text transform="matrix(0.9360 0 0 1 189.49 1713.6)">U</text><text transform="matrix(0.9735 0 0 1 204.47 1713.6)">l</text><text transform="matrix(1.2729 0 0 1 209.67 1713.6)">t</text><text transform="matrix(0.9735 0 0 1 217.93 1713.6)">i</text><text transform="matrix(1.0851 0 0 1 223.29 1713.6)">m</text><text transform="matrix(0.8564 0 0 1 242.97 1713.6)">a</text><text transform="matrix(1.2729 0 0 1 254.96 1713.6)">t</text><text transform="matrix(1.0287 0 0 1 262.89 1713.6)">e</text><text transform="matrix(1.2729 0 0 1 281.56 1713.6)">t</text><text transform="matrix(1.0287 0 0 1 289.48 1713.6)">e</text><text transform="matrix(1.0851 0 0 1 301.95 1713.6)">m</text><text transform="matrix(1.0361 0 0 1 321.61 1713.6)">p</text><text transform="matrix(0.9735 0 0 1 334.44 1713.6)">l</text><text transform="matrix(0.8564 0 0 1 339.95 1713.6)">a</text><text transform="matrix(1.2729 0 0 1 351.94 1713.6)">t</text><text transform="matrix(1.0287 0 0 1 359.87 1713.6)">e</text><text transform="matrix(0.9129 0 0 1 372.58 1713.6)">s</text><text transform="matrix(0.8564 0 0 1 389.30 1713.6)">a</text><text transform="matrix(1.2729 0 0 1 401.30 1713.6)">t</text><text transform="matrix(0.8163 0 0 1 415.97 1713.6)">F</text><text transform="matrix(0.9735 0 0 1 427.47 1713.6)">i</text><text transform="matrix(1.0268 0 0 1 432.92 1713.6)">n</text><text transform="matrix(0.8564 0 0 1 445.69 1713.6)">a</text><text transform="matrix(1.0268 0 0 1 457.94 1713.6)">n</text><text transform="matrix(0.9556 0 0 1 470.52 1713.6)">c</text><text transform="matrix(0.9735 0 0 1 481.82 1713.6)">i</text><text transform="matrix(0.8564 0 0 1 487.32 1713.6)">a</text><text transform="matrix(0.9735 0 0 1 499.69 1713.6)">l</text><text transform="matrix(0.9594 0 0 1 504.87 1713.6)">A</text><text transform="matrix(1.0340 0 0 1 518.80 1713.6)">h</text><text transform="matrix(0.8564 0 0 1 531.64 1713.6)">a</text><text transform="matrix(1.0305 0 0 1 543.67 1713.6)">.</text><text transform="matrix(0.9556 0 0 1 550.14 1713.6)">c</text><text transform="matrix(1.0125 0 0 1 561.13 1713.6)">o</text><text transform="matrix(1.0851 0 0 1 573.50 1713.6)">m</text></g>
</svg>
</body></html>
